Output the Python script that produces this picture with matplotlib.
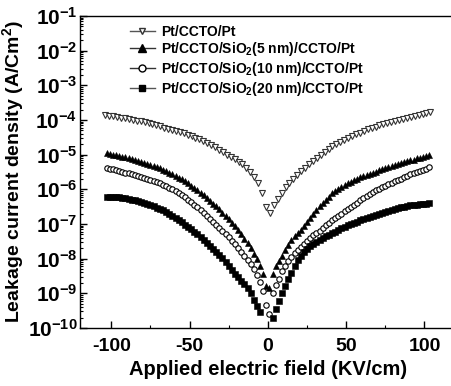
import numpy as np
import matplotlib
matplotlib.use("Agg")
import matplotlib.pyplot as plt
from matplotlib.ticker import LogLocator, FixedLocator, NullFormatter, FuncFormatter
from matplotlib.lines import Line2D

plt.rcParams['font.family'] = ['Liberation Sans', 'DejaVu Sans']
plt.rcParams['font.weight'] = 'bold'
plt.rcParams['axes.unicode_minus'] = False
plt.rcParams['mathtext.fontset'] = 'custom'
plt.rcParams['mathtext.rm'] = 'Liberation Sans:bold'
plt.rcParams['mathtext.bf'] = 'Liberation Sans:bold'
plt.rcParams['mathtext.it'] = 'Liberation Sans:bold'
plt.rcParams['mathtext.default'] = 'rm'

labels = ['Pt/CCTO/Pt',
          r'Pt/CCTO/SiO$_2$(5 nm)/CCTO/Pt',
          r'Pt/CCTO/SiO$_2$(10 nm)/CCTO/Pt',
          r'Pt/CCTO/SiO$_2$(20 nm)/CCTO/Pt']

# ---- Series 1: Pt/CCTO/Pt  (field in kV/cm, log10 of J) ----
x1_left = [-103.75, -101.25, -98.75, -96.25, -93.75, -91.25, -88.75, -86.25, -83.75, -81.25,
           -78.75, -76.25, -73.75, -71.25, -68.75, -66.25, -63.75, -61.25, -58.75, -56.25,
           -53.75, -51.25, -48.75, -46.25, -43.75, -41.25, -38.75, -36.25, -33.75, -31.25,
           -28.75, -26.25, -23.75, -21.25, -18.75, -16.25, -13.75, -11.25, -8.75, -6.25,
           -3.75, -1.25]
y1_left = [-3.86, -3.875, -3.89, -3.91, -3.93, -3.95, -3.97, -3.99, -4.02, -4.04,
           -4.07, -4.09, -4.12, -4.15, -4.18, -4.22, -4.25, -4.28, -4.32, -4.35,
           -4.38, -4.42, -4.46, -4.51, -4.56, -4.61, -4.67, -4.73, -4.79, -4.86,
           -4.93, -5.00, -5.07, -5.13, -5.20, -5.28, -5.39, -5.51, -5.64, -5.83,
           -6.12, -6.50]
x1_right = [1.25, 3.75, 6.25, 8.75, 11.25, 13.75, 16.25, 18.75, 21.25, 23.75,
            26.25, 28.75, 31.25, 33.75, 36.25, 38.75, 41.25, 43.75, 46.25, 48.75,
            51.25, 53.75, 56.25, 58.75, 61.25, 63.75, 66.25, 68.75, 71.25, 73.75,
            76.25, 78.75, 81.25, 83.75, 86.25, 88.75, 91.25, 93.75, 96.25, 98.75,
            101.25, 103.75]
y1_right = [-6.67, -6.46, -6.28, -6.10, -5.93, -5.81, -5.71, -5.59, -5.48, -5.38,
            -5.28, -5.19, -5.10, -5.01, -4.92, -4.83, -4.76, -4.69, -4.63, -4.57,
            -4.52, -4.46, -4.41, -4.37, -4.32, -4.27, -4.23, -4.19, -4.15, -4.12,
            -4.08, -4.05, -4.02, -4.00, -3.97, -3.94, -3.91, -3.88, -3.85, -3.83,
            -3.80, -3.78]

# ---- field grid of the SiO2 samples ----
x_left = [-103, -101, -99, -97, -95, -93, -91, -89, -87, -85,
          -83, -81, -79, -77, -75, -73, -71, -69, -67, -65,
          -63, -61, -59, -57, -55, -53, -51, -49, -47, -45,
          -43, -41, -39, -37, -35, -33, -31, -29, -27, -25,
          -23, -21, -19, -17, -15, -13, -11, -9, -7, -5,
          -3, -1]
x_right = [1, 3, 5, 7, 9, 11, 13, 15, 17, 19,
           21, 23, 25, 27, 29, 31, 33, 35, 37, 39,
           41, 43, 45, 47, 49, 51, 53, 55, 57, 59,
           61, 63, 65, 67, 69, 71, 73, 75, 77, 79,
           81, 83, 85, 87, 89, 91, 93, 95, 97, 99,
           101, 103]

# ---- Series 2: SiO2 5 nm ----
y2_left = [-4.965, -4.98, -5.00, -5.015, -5.035, -5.055, -5.075, -5.10, -5.13, -5.155,
           -5.18, -5.205, -5.235, -5.265, -5.30, -5.33, -5.365, -5.395, -5.435, -5.475,
           -5.515, -5.565, -5.615, -5.66, -5.715, -5.77, -5.83, -5.89, -5.955, -6.025,
           -6.10, -6.17, -6.25, -6.33, -6.41, -6.49, -6.58, -6.68, -6.775, -6.87,
           -6.97, -7.07, -7.18, -7.29, -7.42, -7.55, -7.69, -7.86, -8.00, -8.20,
           -8.45, -8.78]
y2_right = [-8.85, -8.45, -8.22, -8.08, -7.92, -7.75, -7.60, -7.47, -7.36, -7.27,
            -7.17, -7.06, -6.94, -6.82, -6.71, -6.59, -6.49, -6.39, -6.30, -6.21,
            -6.12, -6.05, -5.99, -5.93, -5.87, -5.82, -5.78, -5.73, -5.69, -5.65,
            -5.61, -5.58, -5.55, -5.52, -5.49, -5.45, -5.42, -5.39, -5.36, -5.33,
            -5.30, -5.26, -5.24, -5.21, -5.19, -5.16, -5.14, -5.11, -5.09, -5.06,
            -5.04, -5.02]

# ---- Series 3: SiO2 10 nm ----
y3_left = [-5.385, -5.40, -5.42, -5.44, -5.465, -5.49, -5.515, -5.54, -5.57, -5.595,
           -5.62, -5.645, -5.675, -5.70, -5.73, -5.76, -5.795, -5.83, -5.865, -5.905,
           -5.95, -6.00, -6.055, -6.11, -6.17, -6.235, -6.30, -6.37, -6.445, -6.515,
           -6.59, -6.67, -6.76, -6.85, -6.935, -7.02, -7.11, -7.20, -7.29, -7.38,
           -7.48, -7.58, -7.70, -7.81, -7.92, -8.04, -8.16, -8.31, -8.48, -8.68,
           -8.92, -9.35]
y3_right = [-9.60, -9.00, -8.76, -8.58, -8.36, -8.20, -8.07, -7.96, -7.85, -7.75,
            -7.66, -7.57, -7.49, -7.41, -7.33, -7.26, -7.19, -7.11, -7.04, -6.97,
            -6.89, -6.82, -6.76, -6.70, -6.63, -6.57, -6.51, -6.45, -6.39, -6.32,
            -6.26, -6.20, -6.14, -6.09, -6.03, -5.98, -5.94, -5.89, -5.85, -5.81,
            -5.77, -5.73, -5.69, -5.65, -5.61, -5.57, -5.53, -5.50, -5.46, -5.43,
            -5.40, -5.37]

# ---- Series 4: SiO2 20 nm (no readings at -3, -1, +1) ----
y4_left = [-6.21, -6.21, -6.22, -6.225, -6.235, -6.245, -6.26, -6.28, -6.295, -6.315,
           -6.34, -6.365, -6.39, -6.42, -6.45, -6.485, -6.525, -6.565, -6.61, -6.66,
           -6.71, -6.765, -6.825, -6.885, -6.95, -7.015, -7.08, -7.15, -7.225, -7.295,
           -7.37, -7.45, -7.54, -7.63, -7.715, -7.80, -7.895, -7.99, -8.105, -8.22,
           -8.33, -8.43, -8.54, -8.63, -8.73, -8.84, -8.99, -9.18, -9.36, -9.55]
y4_right = [-9.72, -9.45, -9.22, -9.00, -8.79, -8.59, -8.40, -8.22, -8.05, -7.91,
            -7.80, -7.71, -7.64, -7.58, -7.52, -7.46, -7.41, -7.36, -7.31, -7.27,
            -7.22, -7.17, -7.12, -7.08, -7.04, -7.00, -6.96, -6.93, -6.89, -6.86,
            -6.82, -6.79, -6.76, -6.73, -6.70, -6.67, -6.65, -6.62, -6.59, -6.57,
            -6.54, -6.52, -6.50, -6.48, -6.46, -6.45, -6.44, -6.43, -6.42, -6.41,
            -6.40]

fig = plt.figure(figsize=(4.52, 3.86), dpi=100)
ax = fig.add_axes([80/452, 58/386, 375.8/452, 312/386])

x1 = x1_left + x1_right
y1 = y1_left + y1_right
x23 = x_left + x_right
y2 = y2_left + y2_right
y3 = y3_left + y3_right
x4 = x_left[:-2] + x_right[1:]
y4 = y4_left + y4_right

ax.plot(x1, 10**np.array(y1), linestyle='none', marker='v', ms=4.6, mfc='white',
        mec='#333333', mew=0.8)
ax.plot(x23, 10**np.array(y2), linestyle='none', marker='^', ms=4.6, mfc='black',
        mec='black', mew=0.4)
ax.plot(x23, 10**np.array(y3), linestyle='none', marker='o', ms=3.9, mfc='white',
        mec='black', mew=0.8)
ax.plot(x4, 10**np.array(y4), linestyle='none', marker='s', ms=3.7, mfc='black',
        mec='black', mew=0.4)

ax.set_yscale('log')
ax.set_xlim(-120, 120)
ax.set_ylim(1e-10, 1e-1)

ax.xaxis.set_major_locator(FixedLocator([-100, -50, 0, 50, 100]))
ax.xaxis.set_minor_locator(FixedLocator([-75, -25, 25, 75]))
ax.yaxis.set_major_locator(LogLocator(base=10, numticks=20))
ax.yaxis.set_minor_locator(LogLocator(base=10, subs=np.arange(2, 10), numticks=20))
ax.yaxis.set_minor_formatter(NullFormatter())
ax.yaxis.set_major_formatter(FuncFormatter(lambda v, p: r'$10^{%d}$' % int(round(np.log10(v)))))

ax.tick_params(axis='both', which='major', direction='in', length=5, width=1,
               top=False, right=False)
ax.tick_params(axis='both', which='minor', direction='in', length=2.5, width=0.8,
               top=False, right=False)
ax.tick_params(axis='x', labelsize=14, pad=7)
ax.tick_params(axis='y', labelsize=15, pad=2)
for lab in ax.get_xticklabels() + ax.get_yticklabels():
    lab.set_fontweight('bold')
for s in ax.spines.values():
    s.set_linewidth(1.0)

ax.set_xlabel('Applied electric field (KV/cm)', fontsize=14.5, fontweight='bold', labelpad=4)
ax.set_ylabel(r'Leakage current density (A/Cm$^2$)', fontsize=14, fontweight='bold', labelpad=1)

handles = [
    Line2D([], [], color='#555555', lw=1, marker='v', ms=5, mfc='white', mec='#333333'),
    Line2D([], [], color='#333333', lw=1, marker='^', ms=5.5, mfc='black', mec='black'),
    Line2D([], [], color='#333333', lw=1, marker='o', ms=5, mfc='white', mec='black'),
    Line2D([], [], color='#555555', lw=1, marker='s', ms=5, mfc='black', mec='black'),
]
leg = ax.legend(handles, labels, loc='upper left', bbox_to_anchor=(0.118, 0.99),
                frameon=False, fontsize=10, handlelength=1.8, handletextpad=0.45,
                labelspacing=0.12, borderaxespad=0)
for t in leg.get_texts():
    t.set_fontweight('bold')

fig.savefig('out.png', dpi=100)
